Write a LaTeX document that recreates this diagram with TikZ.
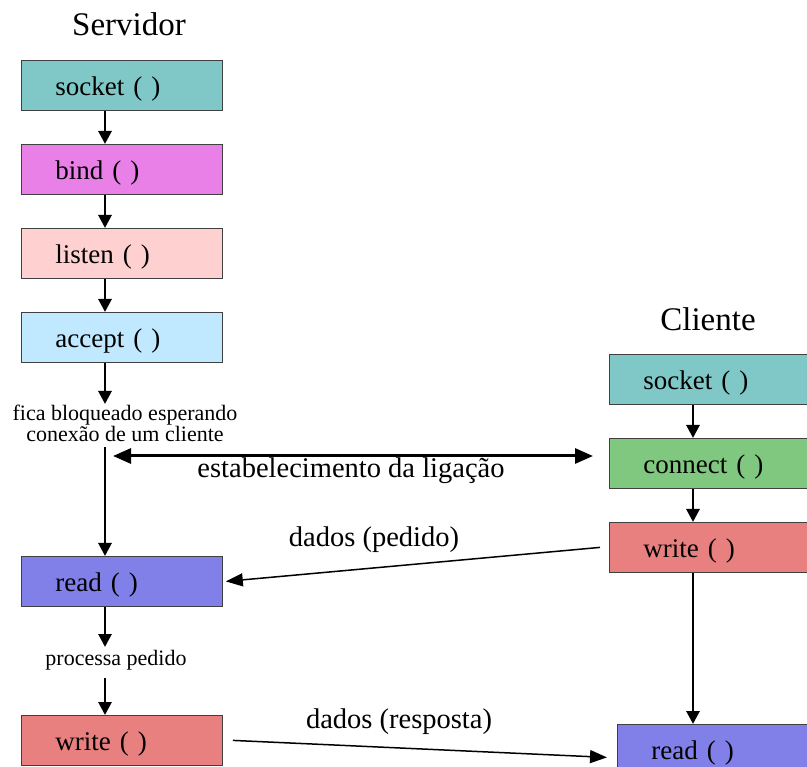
\documentclass[tikz,border=0pt]{standalone}
\usepackage{fontspec}
\setmainfont{Liberation Serif}
\usetikzlibrary{arrows.meta,calc}

\definecolor{cSocket}{HTML}{80C8C8}
\definecolor{cBind}{HTML}{E880E8}
\definecolor{cListen}{HTML}{FFD0D0}
\definecolor{cAccept}{HTML}{C0E8FF}
\definecolor{cRead}{HTML}{8080E8}
\definecolor{cWrite}{HTML}{E88080}
\definecolor{cConnect}{HTML}{80C880}

\tikzset{
  callbox/.style={rectangle, draw=black!75, line width=0.8pt, anchor=north west,
    minimum height=50pt, inner xsep=34pt, inner ysep=0pt, align=left,
    text height=25pt, text depth=5pt,
    font=\fontsize{27}{30}\selectfont},
  leftbox/.style={callbox, text width=133pt},
  rightbox/.style={callbox, text width=160pt},
  title/.style={font=\fontsize{33}{36}\selectfont},
  note/.style={font=\fontsize{22}{18}\selectfont, align=center, inner sep=0pt},
  msglabel/.style={font=\fontsize{28.5}{32}\selectfont, inner sep=0pt},
  flow/.style={line width=2.8pt, -{Triangle[width=13pt,length=13pt]}},
  msg/.style={line width=1.5pt, -{Triangle[width=13pt,length=17pt]}},
  link/.style={line width=3pt, {Triangle[width=15pt,length=18pt]}-{Triangle[width=15pt,length=18pt]}}
}

\begin{document}
\begin{tikzpicture}[x=1pt,y=-1pt]
\useasboundingbox (0,0) rectangle (807,767);

% server side
\node[title] (srv) at (129,24) {Servidor};
\node[leftbox, fill=cSocket]  (ssock)   at (21,60)  {socket ( )};
\node[leftbox, fill=cBind]    (sbind)   at (21,144) {bind ( )};
\node[leftbox, fill=cListen]  (slisten) at (21,228) {listen ( )};
\node[leftbox, fill=cAccept]  (saccept) at (21,312) {accept ( )};
\node[note, anchor=north] (swait) at (125,405) {fica bloqueado esperando\\conexão de um cliente};
\node[leftbox, fill=cRead]    (sread)   at (21,556) {read ( )};
\node[note, anchor=north] (sproc) at (116,650) {processa pedido};
\node[leftbox, fill=cWrite]   (swrite)  at (21,715) {write ( )};

% client side
\node[title] (cli) at (708,319) {Cliente};
\node[rightbox, fill=cSocket]  (csock)    at (609,354) {socket ( )};
\node[rightbox, fill=cConnect] (cconnect) at (609,438) {connect ( )};
\node[rightbox, fill=cWrite]   (cwrite)   at (609,522) {write ( )};
\node[rightbox, fill=cRead]    (cread)    at (617,724) {read ( )};

% vertical axes of the two flows
\coordinate (axS) at (105,0);
\coordinate (axC) at (693,0);

\draw[flow] (ssock.south -| axS) -- (sbind.north -| axS);
\draw[flow] (sbind.south -| axS) -- (slisten.north -| axS);
\draw[flow] (slisten.south -| axS) -- (saccept.north -| axS);
\draw[flow] (saccept.south -| axS) -- ($(swait.north -| axS)+(0,-1)$);
\draw[flow] (105,447) -- (sread.north -| axS);
\draw[flow] (sread.south -| axS) -- ($(sproc.north -| axS)+(0,-3)$);
\draw[flow] ($(sproc.south -| axS)+(0,8)$) -- (swrite.north -| axS);

\draw[flow] (csock.south -| axC) -- (cconnect.north -| axC);
\draw[flow] (cconnect.south -| axC) -- (cwrite.north -| axC);
\draw[flow] (cwrite.south -| axC) -- (cread.north -| axC);

% connection setup
\coordinate (linkL) at (113,456);
\coordinate (linkR) at (593,456);
\draw[link] (linkL) -- (linkR);
\node[msglabel] (lset) at (351,471) {estabelecimento da ligação};

% request and reply
\draw[msg] ([xshift=-9pt]cwrite.west) -- ([xshift=3pt]sread.east);
\node[msglabel] (lreq) at (374,540) {dados (pedido)};
\draw[msg] ([xshift=10pt]swrite.east) -- ([xshift=-10pt,yshift=-8pt]cread.west);
\node[msglabel] (lrep) at (399,722) {dados (resposta)};
\end{tikzpicture}
\end{document}
